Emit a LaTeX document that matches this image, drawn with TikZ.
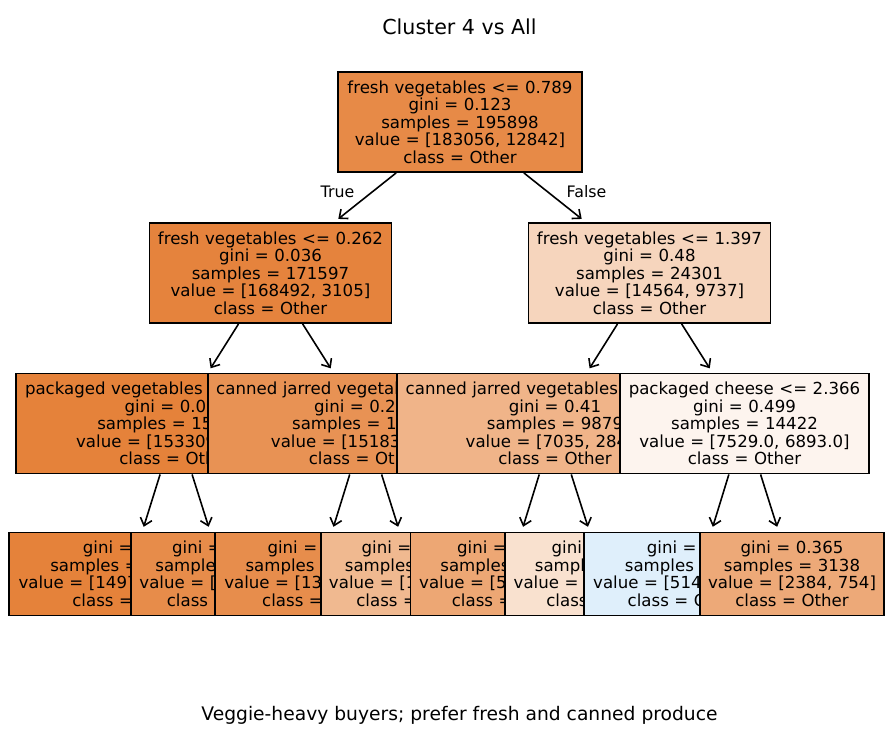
\documentclass[tikz,border=0pt]{standalone}
\usepackage{fontspec}
\setmainfont{DejaVu Sans}
\usetikzlibrary{arrows.meta}
\definecolor{cRoot}{RGB}{231,138,71}
\definecolor{cL}{RGB}{229,131,61}
\definecolor{cR}{RGB}{246,213,189}
\definecolor{cLL}{RGB}{229,130,58}
\definecolor{cLR}{RGB}{232,146,84}
\definecolor{cRL}{RGB}{240,180,137}
\definecolor{cRR}{RGB}{253,244,238}
\definecolor{cLLL}{RGB}{229,130,58}
\definecolor{cLLR}{RGB}{231,140,74}
\definecolor{cLRL}{RGB}{231,141,76}
\definecolor{cLRR}{RGB}{240,185,144}
\definecolor{cRLL}{RGB}{237,167,116}
\definecolor{cRLR}{RGB}{249,225,207}
\definecolor{cRRL}{RGB}{223,239,251}
\definecolor{cRRR}{RGB}{237,169,120}
\begin{document}
\begin{tikzpicture}[x=1bp,y=-1bp,
  tnode/.style={draw=black, line width=1.9bp, inner sep=0pt, align=center,
    font=\fontsize{16.6bp}{17.5bp}\selectfont, minimum height=100bp},
  leaf/.style={tnode, minimum height=83bp},
  edge/.style={-{Straight Barb[length=7bp,width=12bp]}, line width=1.6bp, shorten >=5bp},
  lbl/.style={anchor=base, font=\fontsize{15.8bp}{18bp}\selectfont, inner sep=0pt},
]
\useasboundingbox (0,0) rectangle (892,735);
\fill[white] (0,0) rectangle (892,735);

\node[tnode, fill=cRoot, minimum width=244bp, text width=240bp] (root) at (460,122)
  {fresh vegetables <= 0.789\\gini = 0.123\\samples = 195898\\value = [183056, 12842]\\class = Other};
\node[tnode, fill=cL, minimum width=242bp, text width=238bp] (L) at (270.5,273)
  {fresh vegetables <= 0.262\\gini = 0.036\\samples = 171597\\value = [168492, 3105]\\class = Other};
\node[tnode, fill=cLL, minimum width=320bp, text width=316bp] (LL) at (176,423.5)
  {packaged vegetables fruits <= 0.52\\gini = 0.013\\samples = 154344\\value = [153309, 1035]\\class = Other};
\node[leaf, fill=cLLL, minimum width=240bp, text width=236bp] (LLL) at (129,574)
  {gini = 0.01\\samples = 150470\\value = [149735.0, 735.0]\\class = Other};
\node[leaf, fill=cLLR, minimum width=185bp, text width=181bp] (LLR) at (223.5,574)
  {gini = 0.143\\samples = 3874\\value = [3574, 300]\\class = Other};
\node[tnode, fill=cLR, minimum width=315bp, text width=311bp] (LR) at (365.5,423.5)
  {canned jarred vegetables <= 0.611\\gini = 0.211\\samples = 17253\\value = [15183, 2070]\\class = Other};
\node[leaf, fill=cLRL, minimum width=208bp, text width=204bp] (LRL) at (318.9,574)
  {gini = 0.162\\samples = 14803\\value = [13483, 1320]\\class = Other};
\node[leaf, fill=cLRR, minimum width=184bp, text width=180bp] (LRR) at (413,574)
  {gini = 0.425\\samples = 2450\\value = [1700, 750]\\class = Other};
\node[tnode, fill=cR, minimum width=242bp, text width=238bp] (R) at (649.5,273)
  {fresh vegetables <= 1.397\\gini = 0.48\\samples = 24301\\value = [14564, 9737]\\class = Other};
\node[tnode, fill=cRL, minimum width=316bp, text width=312bp] (RL) at (555,423.5)
  {canned jarred vegetables <= 0.418\\gini = 0.41\\samples = 9879\\value = [7035, 2844]\\class = Other};
\node[leaf, fill=cRLL, minimum width=196bp, text width=192bp] (RLL) at (508.5,574)
  {gini = 0.355\\samples = 7063\\value = [5435, 1628]\\class = Other};
\node[leaf, fill=cRLR, minimum width=196bp, text width=192bp] (RLR) at (603,574)
  {gini = 0.491\\samples = 2816\\value = [1600, 1216]\\class = Other};
\node[tnode, fill=cRR, minimum width=249bp, text width=245bp] (RR) at (744.5,423.5)
  {packaged cheese <= 2.366\\gini = 0.499\\samples = 14422\\value = [7529.0, 6893.0]\\class = Other};
\node[leaf, fill=cRRL, minimum width=228bp, text width=224bp] (RRL) at (698.3,574)
  {gini = 0.496\\samples = 11284\\value = [5145.0, 6139.0]\\class = Cluster 4};
\node[leaf, fill=cRRR, minimum width=184bp, text width=180bp] (RRR) at (792,574)
  {gini = 0.365\\samples = 3138\\value = [2384, 754]\\class = Other};

\draw[edge] (root) -- (L);
\draw[edge] (root) -- (R);
\draw[edge] (L) -- (LL);
\draw[edge] (L) -- (LR);
\draw[edge] (R) -- (RL);
\draw[edge] (R) -- (RR);
\draw[edge] (LL) -- (LLL);
\draw[edge] (LL) -- (LLR);
\draw[edge] (LR) -- (LRL);
\draw[edge] (LR) -- (LRR);
\draw[edge] (RL) -- (RLL);
\draw[edge] (RL) -- (RLR);
\draw[edge] (RR) -- (RRL);
\draw[edge] (RR) -- (RRR);

\node[lbl] (tTrue) at (337.5,197) {True};
\node[lbl] (tFalse) at (586.5,197) {False};

\node[anchor=base, inner sep=0pt, font=\fontsize{20.6bp}{24bp}\selectfont] (title) at (459.5,35) {Cluster 4 vs All};
\node[anchor=base, inner sep=0pt, font=\fontsize{18.7bp}{22bp}\selectfont] (caption) at (459.5,720.7) {Veggie-heavy buyers; prefer fresh and canned produce};
\end{tikzpicture}
\end{document}
